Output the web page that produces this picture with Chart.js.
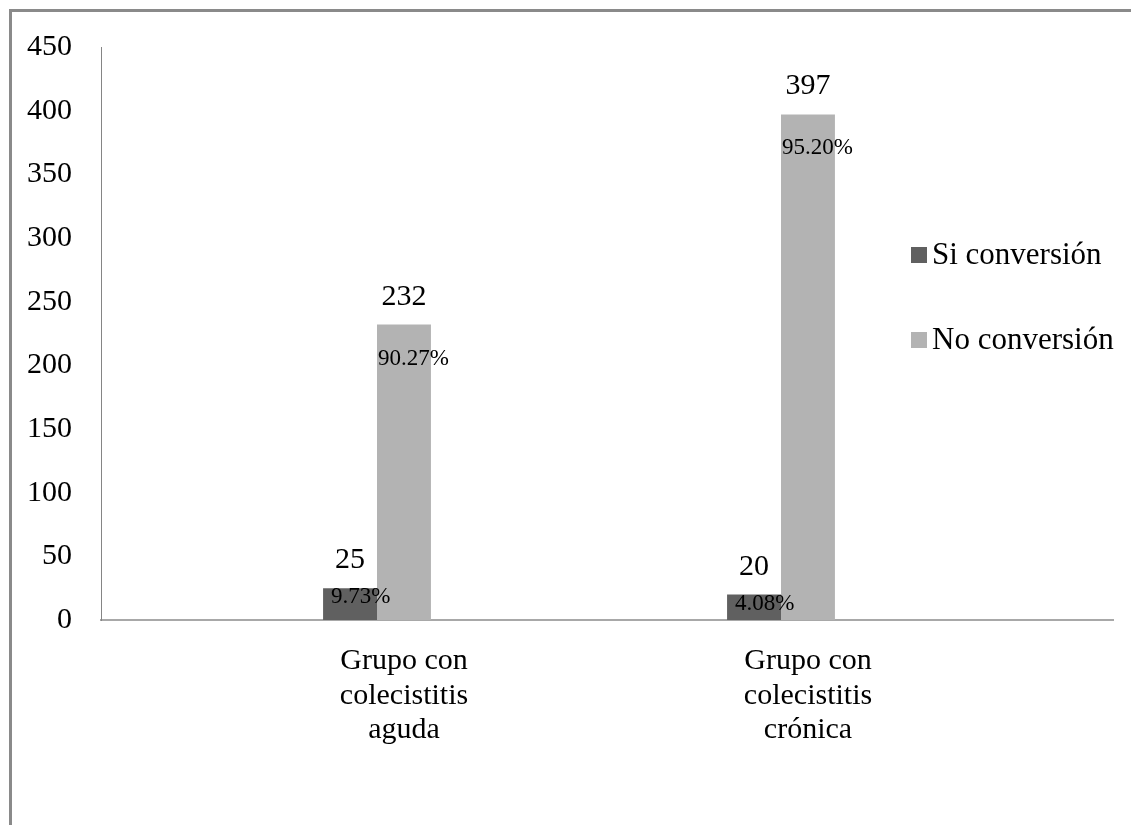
<!DOCTYPE html>
<html>
<head>
<meta charset="utf-8">
<script src="https://cdn.jsdelivr.net/npm/chart.js@4"></script>
<style>
  html, body { margin: 0; padding: 0; background: #fff; overflow: hidden; }
  #frame {
    position: absolute; left: 9px; top: 9px; width: 2000px; height: 2000px;
    border-left: 3px solid #8a8a8a; border-top: 3px solid #8a8a8a;
  }
  #myChart { position: absolute; left: 0; top: 0; }
</style>
</head>
<body>
<div id="frame"></div>
<canvas id="myChart" width="1131" height="825"></canvas>
<script>
// DATA
const categories = [
  ["Grupo con", "colecistitis", "aguda"],
  ["Grupo con", "colecistitis", "crónica"],
];
const seriesNames = ["Si conversión", "No conversión"];
const siConversion = [25, 20];
const noConversion = [232, 397];
const siPercent = [9.73, 4.08];
const noPercent = [90.27, 95.2];
const yTicks = [0, 50, 100, 150, 200, 250, 300, 350, 400, 450];

const FONT = "'Liberation Serif', 'Times New Roman', serif";
Chart.defaults.font.family = FONT;
Chart.defaults.color = "#000";

const toPoints = (vals) => vals.map((v, i) => ({ x: i + 1, y: v }));

// labels: count above the bar, percent inside the top of the bar
const barLabels = {
  id: "barLabels",
  afterDatasetsDraw(chart) {
    const ctx = chart.ctx;
    const pcts = [siPercent, noPercent];
    const pctShift = [{ dx: 8, dy: 15 }, { dx: 1, dy: 40 }];
    ctx.save();
    chart.data.datasets.forEach((ds, d) => {
      const meta = chart.getDatasetMeta(d);
      meta.data.forEach((bar, i) => {
        const p = bar.getProps(["x", "y", "width"], true);
        ctx.fillStyle = "#000";
        ctx.textBaseline = "alphabetic";
        ctx.font = "30px " + FONT;
        ctx.textAlign = "center";
        ctx.fillText(String(ds.data[i].y), p.x, p.y - 20);
        ctx.font = "23px " + FONT;
        ctx.textAlign = "left";
        ctx.fillText(pcts[d][i].toFixed(2) + "%", p.x - p.width / 2 + pctShift[d].dx, p.y + pctShift[d].dy);
      });
    });
    ctx.restore();
  },
};

// legend on the right, over the plot area like the original
const sideLegend = {
  id: "sideLegend",
  afterDraw(chart) {
    const ctx = chart.ctx;
    ctx.save();
    ctx.font = "31px " + FONT;
    ctx.textBaseline = "middle";
    ctx.textAlign = "left";
    chart.data.datasets.forEach((ds, d) => {
      const cy = 255 + d * 85;
      ctx.fillStyle = ds.backgroundColor;
      ctx.fillRect(911, cy - 8, 16, 16);
      ctx.fillStyle = "#000";
      ctx.fillText(ds.label, 932, cy + 1);
    });
    ctx.restore();
  },
};

const data = {
  datasets: [
    {
      label: seriesNames[0],
      data: toPoints(siConversion),
      backgroundColor: "#606060",
      borderWidth: 0,
    },
    {
      label: seriesNames[1],
      data: toPoints(noConversion),
      backgroundColor: "#b3b3b3",
      borderWidth: 0,
    },
  ],
};

const config = {
  type: "bar",
  data: data,
  options: {
    responsive: false,
    animation: false,
    categoryPercentage: 0.267,
    barPercentage: 1,
    layout: { padding: { top: 42, right: 18, bottom: 0, left: 0 } },
    plugins: {
      legend: { display: false },
      tooltip: { enabled: false },
    },
    scales: {
      x: {
        type: "linear",
        min: 0.3168,
        max: 2.8218,
        offset: false,
        grid: { display: false, drawTicks: false },
        border: { display: true, color: "#a8a8a8", width: 2 },
        afterBuildTicks: (scale) => {
          scale.ticks = categories.map((c, i) => ({ value: i + 1 }));
        },
        afterFit: (scale) => {
          scale.height = 205;
        },
        ticks: {
          padding: 24,
          labelOffset: 27,
          maxRotation: 0,
          font: { size: 30, lineHeight: 1.15 },
          callback: (v) => categories[v - 1] || "",
        },
      },
      y: {
        min: 0,
        max: 450,
        grid: { display: false, drawTicks: false },
        border: { display: true, color: "#858585", width: 1 },
        afterBuildTicks: (scale) => {
          scale.ticks = yTicks.map((v) => ({ value: v }));
        },
        afterFit: (scale) => {
          scale.width = 101;
        },
        ticks: {
          padding: 29,
          font: { size: 30 },
        },
      },
    },
  },
  plugins: [barLabels, sideLegend],
};

const myChart = new Chart(document.getElementById("myChart"), config);
</script>
</body>
</html>
